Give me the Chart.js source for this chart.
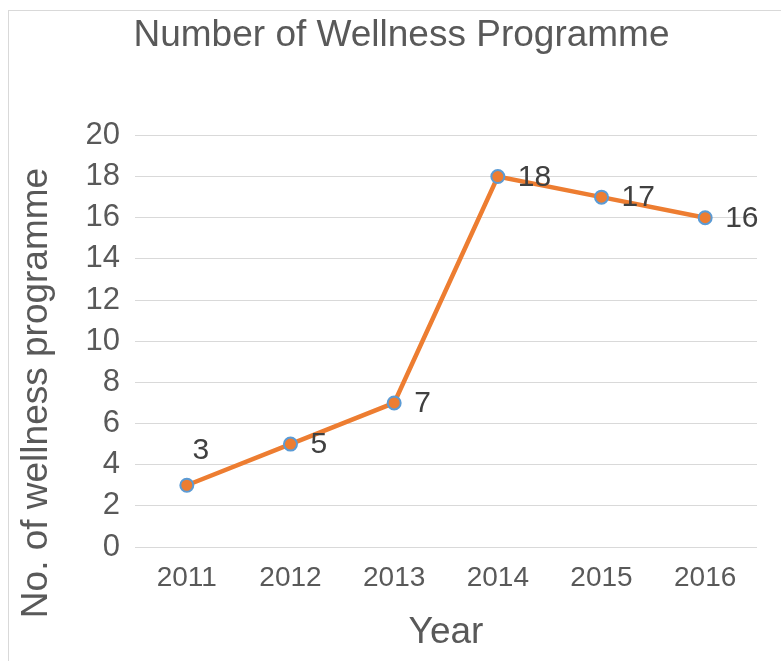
<!DOCTYPE html>
<html>
<head>
<meta charset="utf-8">
<script src="https://cdn.jsdelivr.net/npm/chart.js@4.4.1/dist/chart.umd.min.js"></script>
<style>
  html, body { margin: 0; padding: 0; background: #ffffff; }
  #wrap { position: relative; width: 781px; height: 661px; overflow: hidden; }
  #frame { position: absolute; left: 8px; top: 10px; width: 800px; height: 700px; border: 1px solid #d9d9d9; box-sizing: border-box; }
  canvas { position: absolute; left: 0; top: 0; }
</style>
</head>
<body>
<div id="wrap">
  <div id="frame"></div>
  <canvas id="c" width="781" height="661"></canvas>
</div>
<script>
const years = ["2011", "2012", "2013", "2014", "2015", "2016"];
const programmes = [3, 5, 7, 18, 17, 16];
const labelPlacement = ["above", "right", "right", "right", "right", "right"];
const chartTitle = "Number of Wellness Programme";
const xTitle = "Year";
const yTitle = "No. of wellness programme";

const FONT = "'Liberation Sans', Arial, sans-serif";
const TEXT = "#595959";

const extras = {
  id: "extras",
  afterLayout(chart) {
    // centre the title over the framed picture rather than the canvas
    if (chart.titleBlock) {
      chart.titleBlock.left += 15;
      chart.titleBlock.right += 15;
    }
  },
  afterDatasetsDraw(chart) {
    const ctx = chart.ctx;
    const meta = chart.getDatasetMeta(0);
    ctx.save();
    ctx.font = "30px " + FONT;
    ctx.fillStyle = "#404040";
    meta.data.forEach((pt, i) => {
      const v = chart.data.datasets[0].data[i];
      ctx.textBaseline = "middle";
      if (labelPlacement[i] === "above") {
        ctx.textAlign = "center";
        ctx.fillText(String(v), pt.x + 14, pt.y - 35);
      } else {
        ctx.textAlign = "left";
        ctx.fillText(String(v), pt.x + 20, pt.y + 1);
      }
    });
    // vertical axis title
    const ca = chart.chartArea;
    ctx.translate(37, 393);
    ctx.rotate(-Math.PI / 2);
    ctx.font = "37px " + FONT;
    ctx.fillStyle = TEXT;
    ctx.textAlign = "center";
    ctx.textBaseline = "middle";
    ctx.fillText(yTitle, 0, 0);
    ctx.restore();
  }
};

new Chart(document.getElementById("c"), {
  type: "line",
  data: {
    labels: years,
    datasets: [{
      data: programmes,
      borderColor: "#ED7D31",
      borderWidth: 4.5,
      backgroundColor: "#ED7D31",
      pointBackgroundColor: "#ED7D31",
      pointBorderColor: "#5B9BD5",
      pointBorderWidth: 2,
      pointRadius: 6.5,
      tension: 0,
      fill: false
    }]
  },
  options: {
    responsive: false,
    animation: false,
    devicePixelRatio: 1,
    layout: { padding: { left: 16, top: 14, right: 24, bottom: 6 } },
    plugins: {
      legend: { display: false },
      tooltip: { enabled: false },
      title: {
        display: true,
        text: chartTitle,
        color: TEXT,
        font: { family: FONT, size: 37, weight: "normal" },
        padding: { top: 0, bottom: 77 }
      }
    },
    scales: {
      x: {
        offset: true,
        grid: { display: false, drawTicks: false },
        border: { display: false },
        ticks: { color: TEXT, font: { family: FONT, size: 28 }, padding: 14, maxRotation: 0 },
        title: { display: true, text: xTitle, color: TEXT, font: { family: FONT, size: 37 }, padding: { top: 4, bottom: 0 } },
        afterFit(scale) { scale.height = 108; }
      },
      y: {
        min: 0,
        max: 20,
        ticks: { stepSize: 2, color: TEXT, font: { family: FONT, size: 31 }, padding: 15 },
        grid: { color: "#d9d9d9", lineWidth: 1, drawTicks: false },
        border: { display: false },
        title: { display: false },
        afterFit(scale) { scale.width = 119; }
      }
    }
  },
  plugins: [extras]
});
</script>
</body>
</html>
